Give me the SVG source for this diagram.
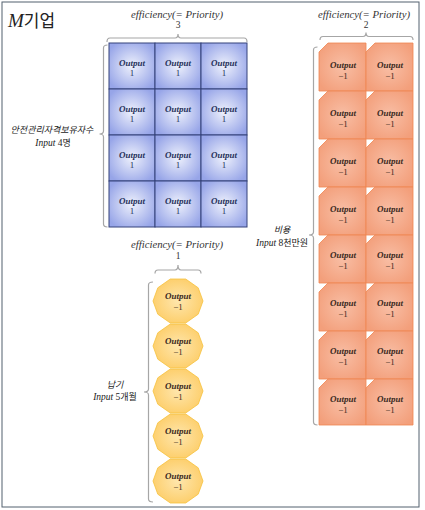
<svg xmlns="http://www.w3.org/2000/svg" width="425" height="510" viewBox="0 0 425 510">
<style>
.frame{fill:#ffffff;stroke:#53606f;stroke-width:1}
.blue{fill:url(#gb);stroke:#34427a;stroke-width:1}
.orange{fill:url(#go);stroke:#ef8752;stroke-width:0.8}
.yellow{fill:url(#gy);stroke:#f6c23e;stroke-width:0.8}
.brk{fill:none;stroke:#a6a6a6;stroke-width:1.2}
.out{font-family:"Liberation Serif",serif;font-style:italic;font-weight:bold;font-size:9px;text-anchor:middle}
.num{font-family:"Liberation Serif",serif;font-size:9px;text-anchor:middle}
.bt{fill:#27325a}
.ot{fill:#3b2a22}
.eff{font-family:"Liberation Serif",serif;font-style:italic;font-size:9.5px;text-anchor:middle;fill:#333}
.effn{font-family:"Liberation Serif",serif;font-size:9.5px;text-anchor:middle;fill:#333}
.kr{font-family:"Noto Sans CJK KR",sans-serif;font-style:italic;font-size:9px;text-anchor:middle;fill:#222}
.lin{font-family:"Liberation Serif",serif;font-style:italic;font-size:9.5px}
.lnum{font-family:"Liberation Serif",serif;font-style:normal;font-size:9.5px}
.lkr{font-family:"Noto Sans CJK KR",sans-serif;font-style:normal;font-size:9px}
</style>
<defs>
<radialGradient id="gb" cx="0.5" cy="0.5" r="0.6">
<stop offset="0" stop-color="#eef1fc"/>
<stop offset="1" stop-color="#97a5e8"/>
</radialGradient>
<radialGradient id="go" cx="0.5" cy="0.5" r="0.6">
<stop offset="0" stop-color="#f8bea5"/>
<stop offset="1" stop-color="#f39f7b"/>
</radialGradient>
<radialGradient id="gy" cx="0.5" cy="0.5" r="0.6">
<stop offset="0" stop-color="#fee6ad"/>
<stop offset="1" stop-color="#fdcb62"/>
</radialGradient>
<polygon id="dec" points="25,0 20.2,13.2 7.7,22 -7.7,22 -20.2,13.2 -25,0 -20.2,-13.2 -7.7,-22 7.7,-22 20.2,-13.2"/>
</defs>

<rect class="frame" x="2" y="2" width="417" height="505"/>

<text x="8" y="27" fill="#222"><tspan font-family="Liberation Serif" font-style="italic" font-size="19">M</tspan><tspan font-family="Noto Sans CJK KR" font-size="17">기업</tspan></text>

<!-- top labels -->
<text class="eff" x="177" y="18" textLength="92" lengthAdjust="spacingAndGlyphs">efficiency(= Priority)</text>
<text class="effn" x="178" y="28">3</text>
<text class="eff" x="364" y="18" textLength="92" lengthAdjust="spacingAndGlyphs">efficiency(= Priority)</text>
<text class="effn" x="366" y="28">2</text>
<text class="eff" x="177" y="248" textLength="92" lengthAdjust="spacingAndGlyphs">efficiency(= Priority)</text>
<text class="effn" x="178" y="259">1</text>

<!-- side labels -->
<text class="kr" x="52" y="133">안전관리자격보유자수</text>
<text class="kr" x="53" y="146"><tspan class="lin">Input</tspan><tspan class="lnum"> 4</tspan><tspan class="lkr">명</tspan></text>
<text class="kr" x="282" y="233">비용</text>
<text class="kr" x="282" y="246"><tspan class="lin">Input</tspan><tspan class="lnum"> 8</tspan><tspan class="lkr">천만원</tspan></text>
<text class="kr" x="115" y="388">납기</text>
<text class="kr" x="115" y="400"><tspan class="lin">Input</tspan><tspan class="lnum"> 5</tspan><tspan class="lkr">개월</tspan></text>

<g id="connectors">
<path class="brk" d="M107,42 Q107,38 110,38 H175 Q178,38 178,34 Q178,38 181,38 H244 Q247,38 247,42"/>
<path class="brk" d="M320,40 Q320,36.5 323,36.5 H363 Q366,36.5 366,32.5 Q366,36.5 369,36.5 H410 Q413,36.5 413,40"/>
<path class="brk" d="M155,273.5 Q155,270 158,270 H175 Q178,270 178,265 Q178,270 181,270 H198 Q201,270 201,273.5"/>
<path class="brk" d="M107.5,45 Q103.5,45 103.5,48 V131 Q103.5,134 99.5,134 Q103.5,134 103.5,137 V224 Q103.5,227 107.5,227"/>
<path class="brk" d="M317.5,47 Q313.5,47 313.5,50 V232 Q313.5,235 309,235 Q313.5,235 313.5,238 V422 Q313.5,425 317.5,425"/>
<path class="brk" d="M153,282 Q148.5,282 148.5,285 V389 Q148.5,392 144,392 Q148.5,392 148.5,395 V499 Q148.5,502 153,502"/>
</g>

<!-- blue grid -->
<g id="b11"><rect class="blue" x="109" y="43" width="46" height="46"/><text class="out bt" x="132" y="66">Output</text><text class="num bt" x="132" y="76">1</text></g>
<g id="b12"><rect class="blue" x="155" y="43" width="46" height="46"/><text class="out bt" x="178" y="66">Output</text><text class="num bt" x="178" y="76">1</text></g>
<g id="b13"><rect class="blue" x="201" y="43" width="46" height="46"/><text class="out bt" x="224" y="66">Output</text><text class="num bt" x="224" y="76">1</text></g>
<g id="b21"><rect class="blue" x="109" y="89" width="46" height="46"/><text class="out bt" x="132" y="112">Output</text><text class="num bt" x="132" y="122">1</text></g>
<g id="b22"><rect class="blue" x="155" y="89" width="46" height="46"/><text class="out bt" x="178" y="112">Output</text><text class="num bt" x="178" y="122">1</text></g>
<g id="b23"><rect class="blue" x="201" y="89" width="46" height="46"/><text class="out bt" x="224" y="112">Output</text><text class="num bt" x="224" y="122">1</text></g>
<g id="b31"><rect class="blue" x="109" y="135" width="46" height="46"/><text class="out bt" x="132" y="158">Output</text><text class="num bt" x="132" y="168">1</text></g>
<g id="b32"><rect class="blue" x="155" y="135" width="46" height="46"/><text class="out bt" x="178" y="158">Output</text><text class="num bt" x="178" y="168">1</text></g>
<g id="b33"><rect class="blue" x="201" y="135" width="46" height="46"/><text class="out bt" x="224" y="158">Output</text><text class="num bt" x="224" y="168">1</text></g>
<g id="b41"><rect class="blue" x="109" y="181" width="46" height="46"/><text class="out bt" x="132" y="204">Output</text><text class="num bt" x="132" y="214">1</text></g>
<g id="b42"><rect class="blue" x="155" y="181" width="46" height="46"/><text class="out bt" x="178" y="204">Output</text><text class="num bt" x="178" y="214">1</text></g>
<g id="b43"><rect class="blue" x="201" y="181" width="46" height="46"/><text class="out bt" x="224" y="204">Output</text><text class="num bt" x="224" y="214">1</text></g>

<!-- orange grid -->
<g id="o11"><path class="orange" d="M328,43 H366 V91 H319 V52 Z"/><text class="out ot" x="343" y="68">Output</text><text class="num ot" x="343" y="79">−1</text></g>
<g id="o12"><path class="orange" d="M375,43 H413 V91 H366 V52 Z"/><text class="out ot" x="390" y="68">Output</text><text class="num ot" x="390" y="79">−1</text></g>
<g id="o21"><path class="orange" d="M328,91 H366 V139 H319 V100 Z"/><text class="out ot" x="343" y="116">Output</text><text class="num ot" x="343" y="127">−1</text></g>
<g id="o22"><path class="orange" d="M375,91 H413 V139 H366 V100 Z"/><text class="out ot" x="390" y="116">Output</text><text class="num ot" x="390" y="127">−1</text></g>
<g id="o31"><path class="orange" d="M328,139 H366 V187 H319 V148 Z"/><text class="out ot" x="343" y="164">Output</text><text class="num ot" x="343" y="175">−1</text></g>
<g id="o32"><path class="orange" d="M375,139 H413 V187 H366 V148 Z"/><text class="out ot" x="390" y="164">Output</text><text class="num ot" x="390" y="175">−1</text></g>
<g id="o41"><path class="orange" d="M328,187 H366 V235 H319 V196 Z"/><text class="out ot" x="343" y="212">Output</text><text class="num ot" x="343" y="223">−1</text></g>
<g id="o42"><path class="orange" d="M375,187 H413 V235 H366 V196 Z"/><text class="out ot" x="390" y="212">Output</text><text class="num ot" x="390" y="223">−1</text></g>
<g id="o51"><path class="orange" d="M328,235 H366 V283 H319 V244 Z"/><text class="out ot" x="343" y="258">Output</text><text class="num ot" x="343" y="269">−1</text></g>
<g id="o52"><path class="orange" d="M375,235 H413 V283 H366 V244 Z"/><text class="out ot" x="390" y="258">Output</text><text class="num ot" x="390" y="269">−1</text></g>
<g id="o61"><path class="orange" d="M328,283 H366 V331 H319 V292 Z"/><text class="out ot" x="343" y="306">Output</text><text class="num ot" x="343" y="317">−1</text></g>
<g id="o62"><path class="orange" d="M375,283 H413 V331 H366 V292 Z"/><text class="out ot" x="390" y="306">Output</text><text class="num ot" x="390" y="317">−1</text></g>
<g id="o71"><path class="orange" d="M328,331 H366 V379 H319 V340 Z"/><text class="out ot" x="343" y="354">Output</text><text class="num ot" x="343" y="365">−1</text></g>
<g id="o72"><path class="orange" d="M375,331 H413 V379 H366 V340 Z"/><text class="out ot" x="390" y="354">Output</text><text class="num ot" x="390" y="365">−1</text></g>
<g id="o81"><path class="orange" d="M328,379 H366 V425 H319 V388 Z"/><text class="out ot" x="343" y="402">Output</text><text class="num ot" x="343" y="413">−1</text></g>
<g id="o82"><path class="orange" d="M375,379 H413 V425 H366 V388 Z"/><text class="out ot" x="390" y="402">Output</text><text class="num ot" x="390" y="413">−1</text></g>

<!-- yellow decagons -->
<g id="y1"><use href="#dec" class="yellow" x="178" y="301"/><text class="out ot" x="178" y="299">Output</text><text class="num ot" x="178" y="310">−1</text></g>
<g id="y2"><use href="#dec" class="yellow" x="178" y="346"/><text class="out ot" x="178" y="344">Output</text><text class="num ot" x="178" y="355">−1</text></g>
<g id="y3"><use href="#dec" class="yellow" x="178" y="391"/><text class="out ot" x="178" y="389">Output</text><text class="num ot" x="178" y="400">−1</text></g>
<g id="y4"><use href="#dec" class="yellow" x="178" y="436"/><text class="out ot" x="178" y="434">Output</text><text class="num ot" x="178" y="445">−1</text></g>
<g id="y5"><use href="#dec" class="yellow" x="178" y="481"/><text class="out ot" x="178" y="479">Output</text><text class="num ot" x="178" y="490">−1</text></g>
</svg>
